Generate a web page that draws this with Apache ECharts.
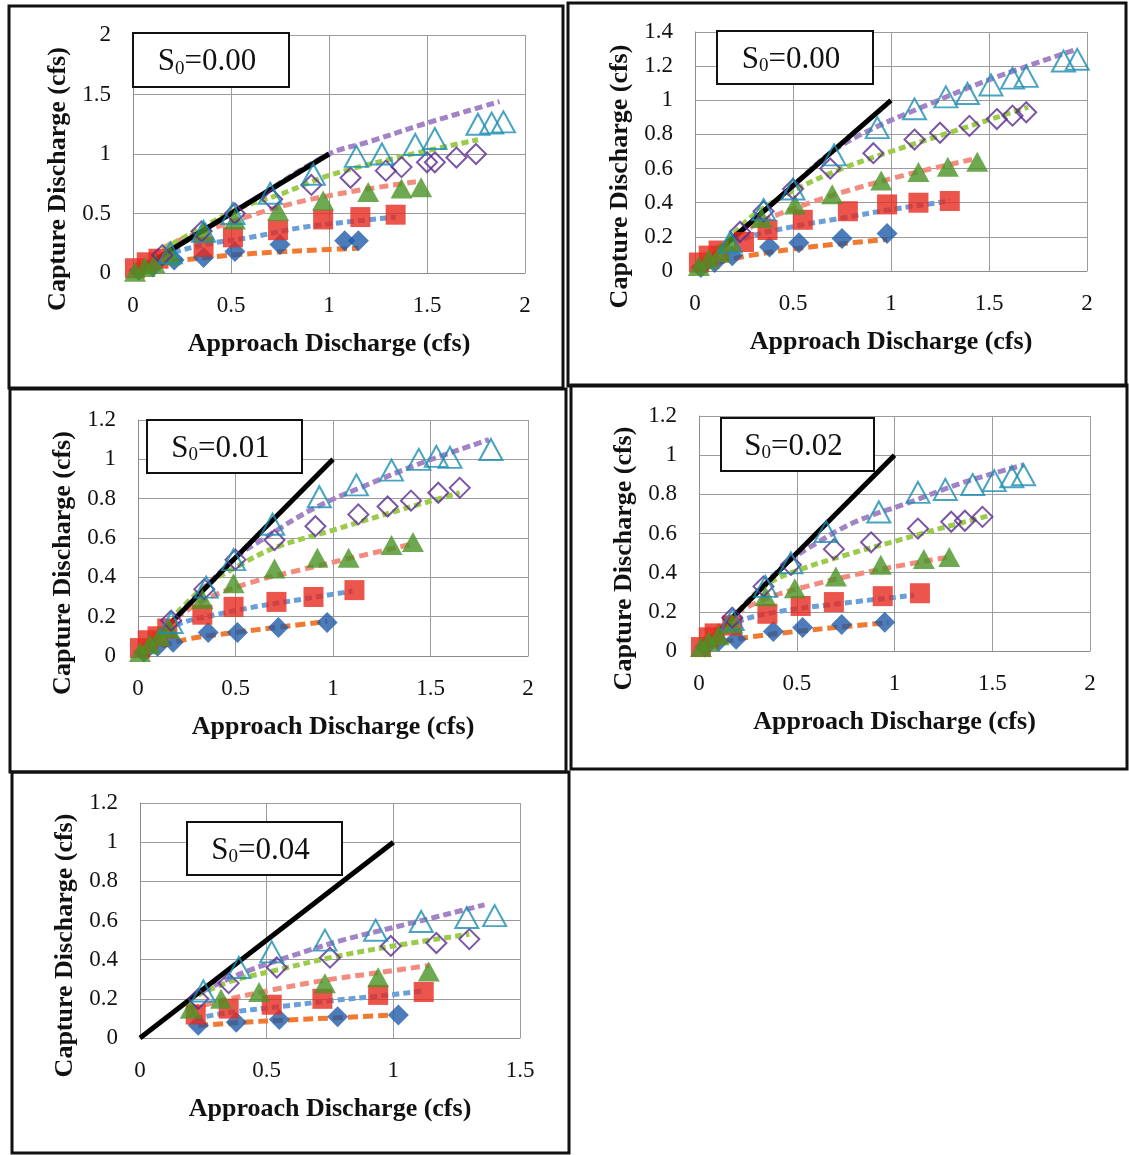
<!DOCTYPE html>
<html><head><meta charset="utf-8">
<script src="https://cdn.jsdelivr.net/npm/echarts/dist/echarts.min.js"></script>
<style>html,body{margin:0;padding:0;background:#fff}#c{width:1129px;height:1155px}</style>
</head><body><div id="c"></div><script>
// ---------------- data ----------------
const panelLabels = ['0.00', '0.00', '0.01', '0.02', '0.04'];
const xMaxes = [2, 2, 2, 2, 1.5];
const xIntervals = [0.5, 0.5, 0.5, 0.5, 0.5];
const yMaxes = [2, 1.4, 1.2, 1.2, 1.2];
const yIntervals = [0.5, 0.2, 0.2, 0.2, 0.2];
const identityLine = [[0, 0], [1, 1]];

// Panel 1 (S0=0.00, left)
const p1Diamond = [[0.03,0.02],[0.1,0.05],[0.21,0.11],[0.36,0.13],[0.52,0.18],[0.75,0.24],[1.08,0.27],[1.15,0.27]];
const p1Square = [[0.01,0.04],[0.07,0.09],[0.13,0.12],[0.36,0.22],[0.51,0.3],[0.74,0.36],[0.97,0.45],[1.16,0.47],[1.34,0.49]];
const p1Triangle = [[0.01,0.01],[0.06,0.05],[0.11,0.08],[0.19,0.15],[0.36,0.34],[0.52,0.45],[0.74,0.52],[0.97,0.61],[1.2,0.68],[1.37,0.71],[1.47,0.72]];
const p1OpenDiamond = [[0.15,0.15],[0.35,0.35],[0.52,0.5],[0.71,0.62],[0.91,0.74],[1.11,0.8],[1.29,0.86],[1.37,0.89],[1.5,0.93],[1.54,0.93],[1.65,0.97],[1.75,1.0]];
const p1OpenTriangle = [[0.19,0.17],[0.36,0.35],[0.51,0.5],[0.7,0.67],[0.92,0.83],[1.14,0.98],[1.27,1.0],[1.44,1.08],[1.54,1.13],[1.76,1.25],[1.83,1.26],[1.89,1.27]];
const p1TrendDiamond = [[0.05,0.06],[0.1,0.08],[0.26,0.11],[0.5,0.15],[0.75,0.178],[1.0,0.198],[1.15,0.207]];
const p1TrendSquare = [[0.05,0.08],[0.2,0.17],[0.4,0.25],[0.6,0.3],[0.87,0.385],[1.1,0.43],[1.34,0.47]];
const p1TrendTriangle = [[0.1,0.15],[0.2,0.25],[0.45,0.4],[0.78,0.57],[1.1,0.68],[1.46,0.77]];
const p1TrendOpenDiamond = [[0.15,0.2],[0.35,0.38],[0.55,0.55],[0.75,0.66],[1.0,0.82],[1.4,0.99],[1.76,1.12]];
const p1TrendOpenTriangle = [[0.2,0.2],[0.6,0.6],[1.0,1.0],[1.2,1.1],[1.48,1.25],[1.87,1.44]];

// Panel 2 (S0=0.00, right)
const p2Diamond = [[0.03,0.02],[0.1,0.05],[0.19,0.09],[0.38,0.14],[0.53,0.165],[0.75,0.19],[0.98,0.22]];
const p2Square = [[0.02,0.05],[0.07,0.09],[0.12,0.12],[0.25,0.17],[0.37,0.24],[0.55,0.3],[0.78,0.35],[0.98,0.39],[1.14,0.4],[1.3,0.41]];
const p2Triangle = [[0.02,0.03],[0.07,0.07],[0.13,0.11],[0.18,0.17],[0.34,0.31],[0.51,0.39],[0.7,0.45],[0.95,0.53],[1.14,0.58],[1.29,0.61],[1.44,0.64]];
const p2OpenDiamond = [[0.23,0.23],[0.35,0.35],[0.5,0.48],[0.69,0.6],[0.91,0.69],[1.12,0.77],[1.25,0.81],[1.4,0.85],[1.54,0.89],[1.62,0.91],[1.69,0.93]];
const p2OpenTriangle = [[0.18,0.17],[0.35,0.36],[0.5,0.48],[0.71,0.68],[0.93,0.84],[1.12,0.95],[1.28,1.02],[1.39,1.04],[1.51,1.09],[1.62,1.13],[1.69,1.14],[1.88,1.23],[1.95,1.24]];
const p2TrendDiamond = [[0.05,0.03],[0.25,0.085],[0.53,0.133],[0.75,0.16],[0.98,0.185]];
const p2TrendSquare = [[0.05,0.07],[0.25,0.19],[0.5,0.26],[0.75,0.31],[1.0,0.36],[1.3,0.41]];
const p2TrendTriangle = [[0.1,0.12],[0.2,0.2],[0.4,0.32],[0.75,0.46],[1.1,0.57],[1.44,0.66]];
const p2TrendOpenDiamond = [[0.2,0.22],[0.3,0.33],[0.5,0.47],[0.75,0.6],[1.0,0.7],[1.35,0.83],[1.7,0.96]];
const p2TrendOpenTriangle = [[0.2,0.2],[0.5,0.5],[0.7,0.7],[0.9,0.83],[1.2,0.98],[1.5,1.12],[1.95,1.3]];

// Panel 3 (S0=0.01)
const p3Diamond = [[0.03,0.02],[0.1,0.05],[0.18,0.07],[0.36,0.12],[0.51,0.12],[0.72,0.145],[0.97,0.17]];
const p3Square = [[0.01,0.04],[0.05,0.08],[0.1,0.1],[0.15,0.14],[0.33,0.21],[0.49,0.25],[0.71,0.275],[0.9,0.3],[1.11,0.335]];
const p3Triangle = [[0.01,0.02],[0.06,0.06],[0.11,0.1],[0.16,0.14],[0.33,0.29],[0.49,0.37],[0.7,0.445],[0.92,0.5],[1.08,0.5],[1.3,0.565],[1.41,0.58]];
const p3OpenDiamond = [[0.17,0.18],[0.34,0.34],[0.5,0.49],[0.7,0.59],[0.91,0.66],[1.13,0.72],[1.28,0.76],[1.4,0.79],[1.54,0.83],[1.65,0.855]];
const p3OpenTriangle = [[0.17,0.17],[0.35,0.35],[0.49,0.49],[0.69,0.67],[0.93,0.81],[1.12,0.87],[1.3,0.945],[1.44,1.0],[1.53,1.015],[1.6,1.01],[1.81,1.05]];
const p3TrendDiamond = [[0.05,0.03],[0.25,0.085],[0.5,0.12],[0.75,0.15],[0.97,0.175]];
const p3TrendSquare = [[0.05,0.07],[0.2,0.16],[0.4,0.21],[0.6,0.25],[0.85,0.29],[1.1,0.33]];
const p3TrendTriangle = [[0.08,0.1],[0.15,0.16],[0.35,0.29],[0.6,0.38],[0.8,0.43],[1.1,0.5],[1.41,0.57]];
const p3TrendOpenDiamond = [[0.2,0.22],[0.35,0.36],[0.5,0.45],[0.7,0.55],[1.0,0.64],[1.3,0.73],[1.65,0.83]];
const p3TrendOpenTriangle = [[0.2,0.2],[0.5,0.5],[0.65,0.6],[0.9,0.75],[1.15,0.86],[1.45,0.98],[1.8,1.1]];

// Panel 4 (S0=0.02)
const p4Diamond = [[0.03,0.02],[0.1,0.05],[0.19,0.06],[0.38,0.1],[0.53,0.12],[0.73,0.135],[0.95,0.147]];
const p4Square = [[0.01,0.02],[0.05,0.07],[0.08,0.09],[0.17,0.13],[0.35,0.19],[0.52,0.23],[0.69,0.25],[0.94,0.28],[1.13,0.295]];
const p4Triangle = [[0.01,0.02],[0.05,0.05],[0.1,0.08],[0.17,0.14],[0.34,0.28],[0.49,0.32],[0.7,0.38],[0.93,0.44],[1.15,0.47],[1.28,0.48]];
const p4OpenDiamond = [[0.17,0.17],[0.33,0.33],[0.47,0.44],[0.69,0.52],[0.88,0.555],[1.12,0.625],[1.29,0.66],[1.36,0.665],[1.45,0.685]];
const p4OpenTriangle = [[0.17,0.16],[0.34,0.33],[0.47,0.45],[0.65,0.61],[0.92,0.71],[1.12,0.81],[1.26,0.825],[1.4,0.85],[1.51,0.87],[1.6,0.89],[1.66,0.9]];
const p4TrendDiamond = [[0.05,0.03],[0.25,0.07],[0.5,0.1],[0.75,0.125],[0.97,0.145]];
const p4TrendSquare = [[0.05,0.06],[0.2,0.15],[0.4,0.2],[0.7,0.24],[1.1,0.285]];
const p4TrendTriangle = [[0.08,0.1],[0.15,0.17],[0.35,0.27],[0.55,0.33],[0.8,0.39],[1.05,0.44],[1.28,0.48]];
const p4TrendOpenDiamond = [[0.2,0.2],[0.33,0.33],[0.5,0.41],[0.75,0.49],[1.0,0.56],[1.25,0.63],[1.48,0.69]];
const p4TrendOpenTriangle = [[0.2,0.2],[0.45,0.45],[0.6,0.55],[0.8,0.66],[1.08,0.76],[1.35,0.86],[1.66,0.95]];

// Panel 5 (S0=0.04)
const p5Diamond = [[0.23,0.065],[0.38,0.08],[0.55,0.095],[0.78,0.108],[1.02,0.118]];
const p5Square = [[0.22,0.12],[0.35,0.15],[0.52,0.17],[0.72,0.2],[0.94,0.22],[1.12,0.235]];
const p5Triangle = [[0.2,0.15],[0.32,0.2],[0.47,0.235],[0.73,0.28],[0.94,0.31],[1.14,0.34]];
const p5OpenDiamond = [[0.23,0.2],[0.35,0.28],[0.54,0.36],[0.75,0.41],[0.99,0.47],[1.17,0.485],[1.3,0.505]];
const p5OpenTriangle = [[0.25,0.24],[0.39,0.36],[0.52,0.44],[0.73,0.5],[0.93,0.55],[1.11,0.595],[1.29,0.615],[1.4,0.625]];
const p5TrendDiamond = [[0.23,0.063],[0.4,0.08],[0.6,0.093],[0.8,0.105],[1.0,0.118]];
const p5TrendSquare = [[0.22,0.1],[0.35,0.13],[0.55,0.16],[0.75,0.19],[0.95,0.215],[1.12,0.24]];
const p5TrendTriangle = [[0.2,0.15],[0.32,0.19],[0.5,0.24],[0.73,0.295],[0.95,0.335],[1.14,0.37]];
const p5TrendOpenDiamond = [[0.23,0.22],[0.36,0.29],[0.55,0.35],[0.75,0.41],[1.0,0.47],[1.3,0.53]];
const p5TrendOpenTriangle = [[0.25,0.24],[0.4,0.33],[0.6,0.42],[0.8,0.5],[1.05,0.58],[1.36,0.68]];

// ---------------- layout & style ----------------
const markers = [
  [p1Diamond, p1Square, p1Triangle, p1OpenDiamond, p1OpenTriangle],
  [p2Diamond, p2Square, p2Triangle, p2OpenDiamond, p2OpenTriangle],
  [p3Diamond, p3Square, p3Triangle, p3OpenDiamond, p3OpenTriangle],
  [p4Diamond, p4Square, p4Triangle, p4OpenDiamond, p4OpenTriangle],
  [p5Diamond, p5Square, p5Triangle, p5OpenDiamond, p5OpenTriangle]
];
const trends = [
  [p1TrendDiamond, p1TrendSquare, p1TrendTriangle, p1TrendOpenDiamond, p1TrendOpenTriangle],
  [p2TrendDiamond, p2TrendSquare, p2TrendTriangle, p2TrendOpenDiamond, p2TrendOpenTriangle],
  [p3TrendDiamond, p3TrendSquare, p3TrendTriangle, p3TrendOpenDiamond, p3TrendOpenTriangle],
  [p4TrendDiamond, p4TrendSquare, p4TrendTriangle, p4TrendOpenDiamond, p4TrendOpenTriangle],
  [p5TrendDiamond, p5TrendSquare, p5TrendTriangle, p5TrendOpenDiamond, p5TrendOpenTriangle]
];
const grids = [
  {left: 133, top: 35, width: 392, height: 238},
  {left: 695, top: 32, width: 392, height: 239},
  {left: 138, top: 420, width: 390, height: 236},
  {left: 699, top: 416, width: 391, height: 235},
  {left: 140, top: 803, width: 380, height: 235}
];
const frames = [
  [9, 6, 554, 382], [568, 3, 558, 383], [10, 389, 556, 383], [571, 385, 556, 384], [12, 772, 557, 381]
];
const boxes = [
  [133, 33, 156, 54], [717, 31, 156, 53], [147, 420, 155, 53], [721, 418, 153, 53], [187, 822, 155, 53]
];
const SERIF = '"Liberation Serif", "DejaVu Serif", serif';
const markerStyles = [
  {symbol: 'diamond', size: [21, 21], color: '#1F5BA8', open: false},
  {symbol: 'rect', size: [20, 20], color: '#E62A1F', open: false},
  {symbol: 'triangle', size: [22, 20], color: '#4A9426', open: false},
  {symbol: 'diamond', size: [20, 20], color: '#5B2C90', open: true},
  {symbol: 'triangle', size: [23, 21], color: '#1B8DB3', open: true}
];
const trendStyles = [
  {color: '#F07A32', dash: [10, 5]},
  {color: '#6A9FD8', dash: [7, 4]},
  {color: '#F28C7E', dash: [9, 5]},
  {color: '#9CCB4C', dash: [7, 4]},
  {color: '#A283C6', dash: [8, 4]}
];

const option = {
  backgroundColor: '#fff',
  animation: false,
  grid: grids.map(g => Object.assign({containLabel: false}, g)),
  xAxis: grids.map((g, i) => ({
    type: 'value', gridIndex: i, min: 0, max: xMaxes[i], interval: xIntervals[i],
    axisLine: {show: true, onZero: false, lineStyle: {color: '#8c8c8c', width: 1}},
    axisTick: {show: false},
    splitLine: {show: true, lineStyle: {color: '#9c9c9c', width: 1}},
    axisLabel: {fontFamily: SERIF, fontSize: 23, color: '#111', margin: 21},
    name: 'Approach Discharge (cfs)', nameLocation: 'middle', nameGap: 58,
    nameTextStyle: {fontFamily: SERIF, fontWeight: 'bold', fontSize: 26, color: '#111'}
  })),
  yAxis: grids.map((g, i) => ({
    type: 'value', gridIndex: i, min: 0, max: yMaxes[i], interval: yIntervals[i],
    axisLine: {show: true, onZero: false, lineStyle: {color: '#8c8c8c', width: 1}},
    axisTick: {show: false},
    splitLine: {show: true, lineStyle: {color: '#9c9c9c', width: 1}},
    axisLabel: {fontFamily: SERIF, fontSize: 23, color: '#111', margin: 22},
    name: 'Capture Discharge (cfs)', nameLocation: 'middle', nameGap: 62,
    nameTextStyle: {fontFamily: SERIF, fontWeight: 'bold', fontSize: 26, color: '#111', padding: [0, 50, 0, 0]}
  })),
  series: [],
  graphic: []
};

for (let i = 0; i < 5; i++) {
  trends[i].forEach((t, k) => {
    option.series.push({
      type: 'line', xAxisIndex: i, yAxisIndex: i, data: t, smooth: 0.35,
      symbol: 'none', silent: true, z: 2,
      lineStyle: {color: trendStyles[k].color, width: 5, type: trendStyles[k].dash}
    });
  });
  option.series.push({
    type: 'line', xAxisIndex: i, yAxisIndex: i, data: identityLine,
    symbol: 'none', silent: true, z: 3,
    lineStyle: {color: '#000', width: 5, type: 'solid'}
  });
  markers[i].forEach((m, k) => {
    const s = markerStyles[k];
    option.series.push({
      type: 'scatter', xAxisIndex: i, yAxisIndex: i, data: m,
      symbol: s.symbol, symbolSize: s.size, silent: true, z: 4 + k,
      itemStyle: s.open
        ? {color: 'rgba(255,255,255,0)', borderColor: s.color, borderWidth: 2}
        : {color: s.color, borderWidth: 0}
    });
  });
  const b = boxes[i];
  option.graphic.push({
    type: 'rect', z: 20, silent: true,
    shape: {x: b[0], y: b[1], width: b[2], height: b[3]},
    style: {fill: '#fff', stroke: '#111', lineWidth: 2}
  });
  option.graphic.push({
    type: 'text', z: 21, silent: true,
    x: b[0] + b[2] / 2 - 4, y: b[1] + b[3] / 2 + 2,
    style: {
      text: '{a|S}{b|0}{a|=' + panelLabels[i] + '}',
      align: 'center', verticalAlign: 'middle',
      rich: {
        a: {fontFamily: SERIF, fontSize: 31, fill: '#111', verticalAlign: 'middle'},
        b: {fontFamily: SERIF, fontSize: 19, fill: '#111', verticalAlign: 'bottom', padding: [14, 0, 0, 0]}
      }
    }
  });
  const f = frames[i];
  option.graphic.push({
    type: 'rect', z: 20, silent: true,
    shape: {x: f[0], y: f[1], width: f[2], height: f[3]},
    style: {fill: 'none', stroke: '#111', lineWidth: 3}
  });
}

const chart = echarts.init(document.getElementById('c'), null, {renderer: 'canvas'});
chart.setOption(option);
</script></body></html>
